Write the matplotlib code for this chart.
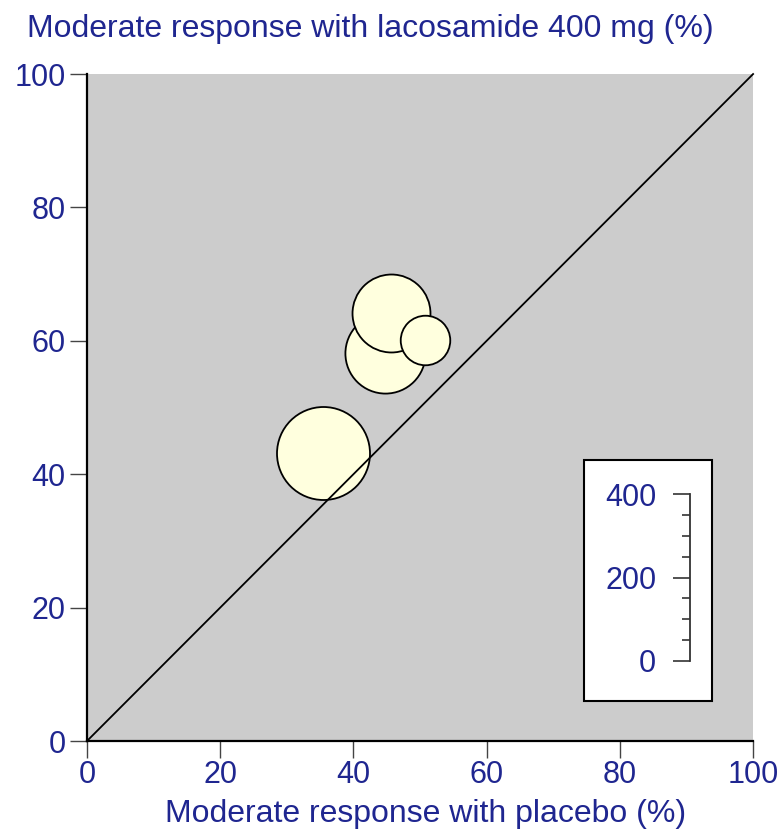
import numpy as np
import matplotlib
matplotlib.use('Agg')
import matplotlib.pyplot as plt
from matplotlib.patches import Rectangle

plt.rcParams['font.family'] = ['Liberation Sans', 'DejaVu Sans']

# trial results: placebo response, lacosamide response, patients
placebo = [35.5, 44.7, 45.6, 50.8]
lacosamide = [43.2, 58.2, 64.2, 60.1]
patients = [370, 275, 260, 105]

ticks = [0, 20, 40, 60, 80, 100]
size_ticks = [0, 200, 400]

navy = '#1f2690'
fill = '#ffffde'
fs = 22

fig = plt.figure(figsize=(7.8, 8.3), dpi=100)
ax = fig.add_axes([0.1115, 0.1072, 0.854, 0.8036])
ax.set_facecolor('#cccccc')
ax.set_xlim(0, 100)
ax.set_ylim(0, 100)

# bubble area proportional to number of patients
k = 93 * 0.72 / np.sqrt(370)
sizes = [(k * np.sqrt(n)) ** 2 for n in patients]
for x, y, s in zip(placebo, lacosamide, sizes):
    ax.scatter(x, y, s=s, c=fill, edgecolors='black', linewidths=1.3, zorder=2)

ax.plot([0, 100], [0, 100], color='black', lw=1.3, zorder=3, clip_on=False)

for sp in ['top', 'right']:
    ax.spines[sp].set_visible(False)
for sp in ['left', 'bottom']:
    ax.spines[sp].set_linewidth(1.6)
ax.set_xticks(ticks)
ax.set_yticks(ticks)
ax.tick_params(length=12.5, width=1, colors='#444444', labelcolor=navy, labelsize=fs)
ax.tick_params(axis='x', pad=1.5)
ax.tick_params(axis='y', pad=3)

fig.text(0.545, 1 - 822 / 830, 'Moderate response with placebo (%)', color=navy,
         fontsize=23, ha='center', va='baseline')
fig.text(27 / 780, 1 - 37 / 830, 'Moderate response with lacosamide 400 mg (%)', color=navy,
         fontsize=23, ha='left', va='baseline')

# size key
ax.add_patch(Rectangle((74.6, 6.0), 19.3, 36.2, facecolor='white', edgecolor='black',
                       lw=1.5, zorder=4))
sax = ax.inset_axes([90.5, 12.0, 1.0, 25.0], transform=ax.transData, zorder=5)
sax.set_ylim(0, 400)
sax.patch.set_visible(False)
for sp in ['top', 'right', 'bottom']:
    sax.spines[sp].set_visible(False)
sax.spines['left'].set_linewidth(1.3)
sax.spines['left'].set_color('#333333')
sax.set_xticks([])
sax.set_yticks(size_ticks)
sax.set_yticks(np.arange(0, 401, 50), minor=True)
sax.tick_params(axis='y', which='major', length=12.2, width=1.2, color='#333333',
                labelcolor=navy, labelsize=fs, pad=12)
sax.tick_params(axis='y', which='minor', length=6, width=1.2, color='#333333')

fig.savefig('out.png', dpi=100)
